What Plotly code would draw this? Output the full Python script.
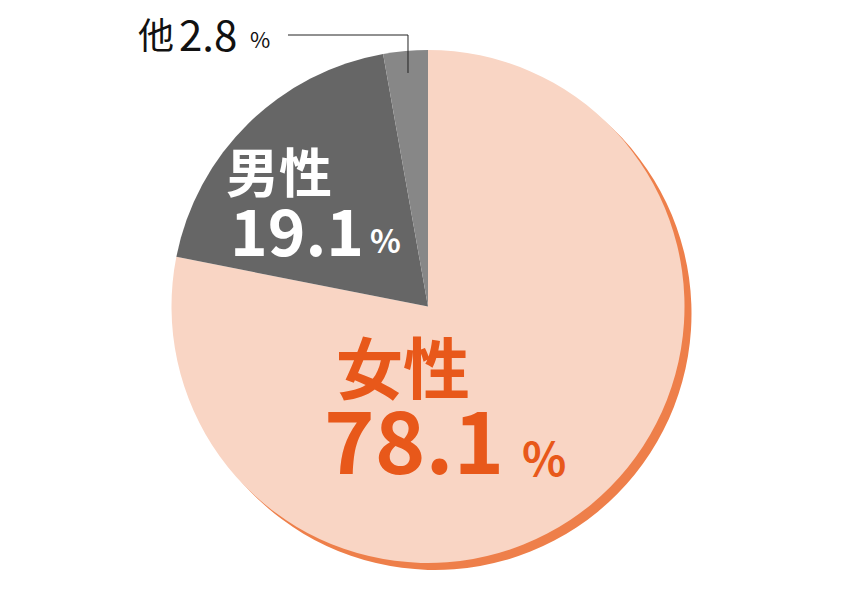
import plotly.graph_objects as go

# data
labels = ["女性", "男性", "他"]
values = [78.1, 19.1, 2.8]
colors = ["#F9D5C4", "#666666", "#878787"]
shadow_colors = ["#EE7F4A", "rgba(0,0,0,0)", "rgba(0,0,0,0)"]

W, H = 860, 600
B = 8  # page body margin of the browser, compensate for it
cx, cy, r = 428, 306.5, 256.5
off = 7  # shadow offset in px


def px(x):
    return (x - B) / W


def py(y):
    return 1 - (y - B) / H


def dom(dx=0, dy=0):
    return dict(x=[px(cx - r + dx), px(cx + r + dx)],
                y=[py(cy + r + dy), py(cy - r + dy)])


fig = go.Figure()

# orange shadow under the big slice
fig.add_trace(go.Pie(labels=labels, values=values, sort=False, direction="clockwise",
                     marker=dict(colors=shadow_colors, line=dict(width=0)),
                     textinfo="none", hoverinfo="skip", domain=dom(off, off),
                     showlegend=False))

fig.add_trace(go.Pie(labels=labels, values=values, sort=False, direction="clockwise",
                     marker=dict(colors=colors, line=dict(width=0)),
                     textinfo="none", domain=dom(), showlegend=False))

jp = "Noto Sans CJK JP"
orange = "#E8581A"
ann = []
# 女性
ann.append(dict(x=px(334), y=py(364), text="<b>%s</b>" % labels[0],
                font=dict(family=jp, size=67, color=orange)))
ann.append(dict(x=px(322), y=py(436), text="<b>%s</b>" % values[0],
                font=dict(family=jp, size=86, color=orange)))
ann.append(dict(x=px(520), y=py(456), text="<b>%</b>",
                font=dict(family=jp, size=46, color=orange)))
# 男性
ann.append(dict(x=px(224), y=py(170), text="<b>%s</b>" % labels[1],
                font=dict(family=jp, size=53, color="white")))
ann.append(dict(x=px(228), y=py(228), text="<b>%s</b>" % values[1],
                font=dict(family=jp, size=64, color="white")))
ann.append(dict(x=px(368), y=py(239), text="<b>%</b>",
                font=dict(family=jp, size=32, color="white")))
# 他
ann.append(dict(x=px(136), y=py(33), text=labels[2],
                font=dict(family=jp, size=36, color="#111111")))
ann.append(dict(x=px(177), y=py(32), text=str(values[2]),
                font=dict(family=jp, size=42, color="#111111")))
ann.append(dict(x=px(248), y=py(38), text="%",
                font=dict(family=jp, size=22, color="#111111")))

for a in ann:
    a.update(xref="paper", yref="paper", xanchor="left", yanchor="middle",
             showarrow=False)

fig.update_layout(
    width=W, height=H,
    margin=dict(l=0, r=0, t=0, b=0),
    paper_bgcolor="white",
    plot_bgcolor="white",
    annotations=ann,
    shapes=[dict(type="path", xref="paper", yref="paper",
                 path="M %f %f L %f %f L %f %f" % (px(288), py(35), px(408), py(35), px(408), py(73)),
                 line=dict(color="#222222", width=1))],
)

fig.write_html("out.html")
